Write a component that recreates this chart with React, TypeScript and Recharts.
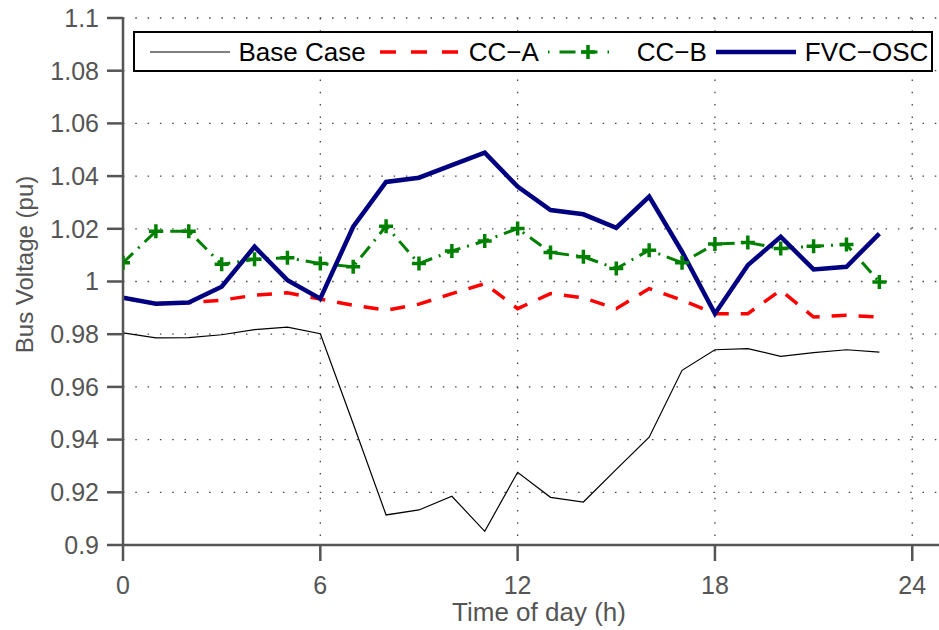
import React from 'react';
import {
  LineChart,
  Line,
  XAxis,
  YAxis,
  CartesianGrid,
  Legend,
  Label
} from 'recharts';

const hours = [0, 1, 2, 3, 4, 5, 6, 7, 8, 9, 10, 11, 12, 13, 14, 15, 16, 17, 18, 19, 20, 21, 22, 23];

const baseCase = [0.9805, 0.9786, 0.9787, 0.9798, 0.9817, 0.9827, 0.9802, 0.946, 0.9114, 0.9133, 0.9185, 0.9052,
  0.9276, 0.9181, 0.9163, 0.9287, 0.9409, 0.9663, 0.9741, 0.9745, 0.9716, 0.973, 0.9741, 0.9732];
const ccA = [0.9938, 0.9916, 0.992, 0.9929, 0.9948, 0.9957, 0.9933, 0.991, 0.9891, 0.9914, 0.9954, 0.9992,
  0.9897, 0.9954, 0.9938, 0.9897, 0.9973, 0.9929, 0.9878, 0.9878, 0.9967, 0.9865, 0.9872, 0.9865];
const ccB = [1.0071, 1.0191, 1.0191, 1.0065, 1.0084, 1.009, 1.0068, 1.0056, 1.021, 1.0068, 1.0116, 1.0154,
  1.0201, 1.011, 1.0094, 1.0049, 1.0119, 1.0071, 1.0142, 1.0148, 1.0125, 1.0134, 1.014, 0.9998];
const fvcOsc = [0.9938, 0.9916, 0.992, 0.998, 1.0132, 1.0005, 0.9935, 1.0208, 1.0378, 1.0394, 1.0442, 1.0489,
  1.036, 1.0271, 1.0255, 1.0204, 1.0322, 1.0113, 0.9878, 1.0062, 1.017, 1.0046, 1.0056, 1.0182];

const xTicks = [0, 6, 12, 18, 24];
const yTicks = [0.9, 0.92, 0.94, 0.96, 0.98, 1, 1.02, 1.04, 1.06, 1.08, 1.1];

const seriesNames = ['Base Case', 'CC\u2212A', 'CC\u2212B', 'FVC\u2212OSC'];

const FONT = '"Liberation Sans", Arial, Helvetica, sans-serif';
const AXIS = '#555555';
const GREEN = '#008000';
const RED = '#ff0000';
const NAVY = '#000080';

const chartData = hours.map((h, i) => ({
  h,
  base: baseCase[i],
  ccA: ccA[i],
  ccB: ccB[i],
  fvc: fvcOsc[i]
}));

const fmtY = (v: number) => String(Number(v.toFixed(2)));

// plus marker for CC-B
const PlusDot = (props: any) => {
  const { cx, cy, index } = props;
  if (cx == null || cy == null) return null;
  return (
    <path
      key={`plus-${index}`}
      d={`M${cx - 7},${cy}h14M${cx},${cy - 7}v14`}
      stroke={GREEN}
      strokeWidth={3.5}
      fill="none"
    />
  );
};

const Sample = ({ kind }: { kind: number }) => (
  <svg width={80} height={20} style={{ display: 'block' }}>
    {kind === 0 && <line x1={0} y1={10} x2={80} y2={10} stroke="#000" strokeWidth={1} />}
    {kind === 1 && <line x1={0} y1={10} x2={80} y2={10} stroke={RED} strokeWidth={3.5} strokeDasharray="16 15" />}
    {kind === 2 && (
      <g>
        <line x1={0} y1={10} x2={80} y2={10} stroke={GREEN} strokeWidth={3} strokeDasharray="1.5 10 16 6 16 10 1.5 30" />
        <path d="M33,10h14M40,3v14" stroke={GREEN} strokeWidth={3.5} />
      </g>
    )}
    {kind === 3 && <line x1={0} y1={10} x2={80} y2={10} stroke={NAVY} strokeWidth={4.5} />}
  </svg>
);

const renderLegend = () => (
  <div
    style={{
      display: 'flex',
      alignItems: 'center',
      boxSizing: 'border-box',
      height: 41,
      width: 800,
      border: '2.5px solid #000',
      background: '#fff',
      paddingLeft: 14.5,
      fontFamily: FONT,
      fontSize: 26,
      color: '#000'
    }}
  >
    {seriesNames.map((name, i) => (
      <div key={name} style={{ display: 'flex', alignItems: 'center', marginRight: i === 0 ? 14 : 9 }}>
        <Sample kind={i} />
        <span style={{ marginLeft: 9, whiteSpace: 'nowrap', lineHeight: '26px' }}>{name}</span>
      </div>
    ))}
  </div>
);

const YLabel = (props: any) => {
  const vb = props.viewBox || {};
  const cx = vb.x + 33;
  const cy = vb.y + vb.height / 2 - 17;
  return (
    <text
      x={cx}
      y={cy}
      transform={`rotate(-90, ${cx}, ${cy})`}
      textAnchor="middle"
      fill={AXIS}
      fontSize={24}
      fontFamily={FONT}
    >
      Bus Voltage (pu)
    </text>
  );
};

export default function App() {
  return (
    <div
      style={{
        position: 'fixed',
        left: 0,
        top: 0,
        width: 939,
        height: 630,
        overflow: 'hidden',
        background: '#fff'
      }}
    >
      <LineChart
        width={960}
        height={630}
        data={chartData}
        margin={{ top: 18, right: 5, bottom: 0, left: 0 }}
        style={{ fontFamily: FONT }}
      >
        <CartesianGrid
          stroke="#444"
          strokeWidth={1.3}
          strokeDasharray="1.5 10.8"
          horizontalValues={yTicks}
          verticalValues={xTicks}
        />
        <XAxis
          dataKey="h"
          type="number"
          domain={[0, 25.3]}
          ticks={xTicks}
          allowDataOverflow
          height={85}
          stroke={AXIS}
          axisLine={{ stroke: AXIS, strokeWidth: 2.5 }}
          tickLine={{ stroke: AXIS, strokeWidth: 2.5 }}
          tickSize={16}
          tickMargin={15}
          tick={{ fill: AXIS, fontSize: 25, fontFamily: FONT }}
        >
          <Label
            value="Time of day (h)"
            position="insideBottom"
            offset={9}
            style={{ fill: AXIS, fontSize: 26, fontFamily: FONT }}
          />
        </XAxis>
        <YAxis
          type="number"
          domain={[0.9, 1.1]}
          ticks={yTicks}
          width={123}
          stroke={AXIS}
          axisLine={{ stroke: AXIS, strokeWidth: 2.5 }}
          tickLine={{ stroke: AXIS, strokeWidth: 2.5 }}
          tickSize={16}
          tickMargin={8}
          tickFormatter={fmtY}
          tick={{ fill: AXIS, fontSize: 25, fontFamily: FONT }}
        >
          <Label content={<YLabel />} />
        </YAxis>
        <Legend
          layout="horizontal"
          verticalAlign="middle"
          align="center"
          content={renderLegend}
          wrapperStyle={{ left: 133, top: 31, width: 800, height: 41 }}
        />
        <Line
          dataKey="base"
          name={seriesNames[0]}
          type="linear"
          stroke="#000"
          strokeWidth={1.2}
          dot={false}
          activeDot={false}
          isAnimationActive={false}
        />
        <Line
          dataKey="ccA"
          name={seriesNames[1]}
          type="linear"
          stroke={RED}
          strokeWidth={3.5}
          strokeDasharray="15 12"
          dot={false}
          activeDot={false}
          isAnimationActive={false}
        />
        <Line
          dataKey="ccB"
          name={seriesNames[2]}
          type="linear"
          stroke={GREEN}
          strokeWidth={3}
          strokeDasharray="14 7 2 7"
          dot={<PlusDot />}
          activeDot={false}
          isAnimationActive={false}
        />
        <Line
          dataKey="fvc"
          name={seriesNames[3]}
          type="linear"
          stroke={NAVY}
          strokeWidth={4.5}
          dot={false}
          activeDot={false}
          isAnimationActive={false}
        />
      </LineChart>
    </div>
  );
}
